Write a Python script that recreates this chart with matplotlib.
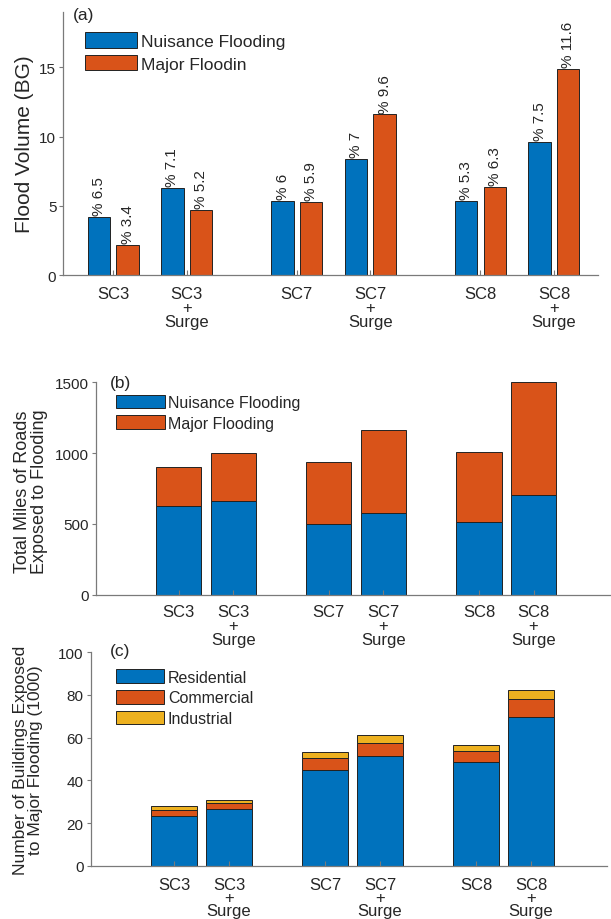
import matplotlib
matplotlib.use("Agg")
import matplotlib.pyplot as plt
import numpy as np

plt.rcParams['font.family'] = ['Liberation Sans', 'DejaVu Sans']
TXT = '#262626'
AX = '#7a7a7a'

# ---------------- data ----------------
scenarios = ['SC3', 'SC3\n+\nSurge', 'SC7', 'SC7\n+\nSurge', 'SC8', 'SC8\n+\nSurge']

vol_nuisance = [4.2, 6.3, 5.35, 8.4, 5.35, 9.6]
vol_major = [2.2, 4.7, 5.3, 11.6, 6.35, 14.9]
pct_nuisance = ['6.5', '7.1', '6', '7', '5.3', '7.5']
pct_major = ['3.4', '5.2', '5.9', '9.6', '6.3', '11.6']

roads_nuisance = [625, 660, 502, 578, 512, 702]
roads_major = [280, 338, 437, 583, 493, 798]

bld_res = [23.4, 26.6, 44.7, 51.6, 48.5, 69.6]
bld_com = [2.8, 2.8, 5.8, 5.9, 5.4, 8.4]
bld_ind = [1.6, 1.4, 2.7, 3.6, 2.7, 4.5]

BLUE = '#0072BD'
ORANGE = '#D95319'
YELLOW = '#EDB120'
EDGE = '#222222'

# ---------------- layout ----------------
pos_a = np.array([1, 2, 3.5, 4.5, 6, 7])
pos_bc = np.array([1, 2, 3.75, 4.75, 6.5, 7.5])

fig = plt.figure(figsize=(6.11, 9.2), dpi=100)
ax_a = fig.add_axes([0.1036, 0.700, 0.8751, 0.2859])
ax_b = fig.add_axes([0.1566, 0.3525, 0.8417, 0.2309])
ax_c = fig.add_axes([0.1484, 0.0579, 0.8445, 0.2320])


def style(ax, xpad, lsp):
    for s in ['top', 'right']:
        ax.spines[s].set_visible(False)
    for s in ['left', 'bottom']:
        ax.spines[s].set_color(AX)
        ax.spines[s].set_linewidth(0.9)
    ax.tick_params(axis='y', direction='out', length=3, width=0.8, color=AX,
                   labelsize=11, labelcolor=TXT, pad=2)
    ax.tick_params(axis='x', direction='in', length=3.5, width=0.8, color=AX,
                   labelsize=12, labelcolor=TXT, pad=xpad)
    for lab in ax.get_xticklabels():
        lab.set_linespacing(lsp)


# ---------------- panel (a) ----------------
w = 0.305
off = 0.195
ax_a.bar(pos_a - off, vol_nuisance, w, color=BLUE, edgecolor=EDGE, linewidth=0.7,
         label='Nuisance Flooding')
ax_a.bar(pos_a + off, vol_major, w, color=ORANGE, edgecolor=EDGE, linewidth=0.7,
         label='Major Floodin')
for x, v, p in zip(pos_a - off, vol_nuisance, pct_nuisance):
    ax_a.text(x, v + 0.12, '% ' + p, rotation=90, ha='center', va='bottom',
              fontsize=11, color=TXT)
for x, v, p in zip(pos_a + off, vol_major, pct_major):
    ax_a.text(x, v + 0.12, '% ' + p, rotation=90, ha='center', va='bottom',
              fontsize=11, color=TXT)
ax_a.set_xlim(0.32, 7.6)
ax_a.set_ylim(0, 19)
ax_a.set_yticks([0, 5, 10, 15])
ax_a.set_xticks(pos_a)
ax_a.set_xticklabels(scenarios, va='top')
style(ax_a, 8, 0.92)
ax_a.set_ylabel('Flood Volume (BG)', fontsize=15, color=TXT)
ax_a.yaxis.set_label_coords(-0.055, 0.5)
ax_a.text(0.018, 0.992, '(a)', transform=ax_a.transAxes, ha='left', va='center',
          fontsize=12.5, color=TXT)
ax_a.legend(loc='upper left', bbox_to_anchor=(0.0406, 0.922), frameon=False,
            fontsize=12.5, handlelength=3.0, handleheight=1.0, labelspacing=0.33,
            handletextpad=0.25, borderpad=0, borderaxespad=0, labelcolor=TXT)

# ---------------- panel (b) ----------------
wb = 0.83
ax_b.bar(pos_bc, roads_nuisance, wb, color=BLUE, edgecolor=EDGE, linewidth=0.7,
         label='Nuisance Flooding')
ax_b.bar(pos_bc, roads_major, wb, bottom=roads_nuisance, color=ORANGE,
         edgecolor=EDGE, linewidth=0.7, label='Major Flooding')
ax_b.set_xlim(-0.52, 8.9)
ax_b.set_ylim(0, 1500)
ax_b.set_yticks([0, 500, 1000, 1500])
ax_b.set_xticks(pos_bc)
ax_b.set_xticklabels(scenarios, va='top')
style(ax_b, 7, 0.88)
ax_b.set_ylabel('Total Miles of Roads\nExposed to Flooding', fontsize=13,
                color=TXT, linespacing=1.0)
ax_b.yaxis.set_label_coords(-0.093, 0.49)
ax_b.text(0.028, 0.998, '(b)', transform=ax_b.transAxes, ha='left', va='center',
          fontsize=12.5, color=TXT)
ax_b.legend(loc='upper left', bbox_to_anchor=(0.0395, 0.942), frameon=False,
            fontsize=11.5, handlelength=3.05, handleheight=0.95, labelspacing=0.33,
            handletextpad=0.22, borderpad=0, borderaxespad=0, labelcolor=TXT)

# ---------------- panel (c) ----------------
bot2 = np.array(bld_res) + np.array(bld_com)
ax_c.bar(pos_bc, bld_res, wb, color=BLUE, edgecolor=EDGE, linewidth=0.7,
         label='Residential')
ax_c.bar(pos_bc, bld_com, wb, bottom=bld_res, color=ORANGE, edgecolor=EDGE,
         linewidth=0.7, label='Commercial')
ax_c.bar(pos_bc, bld_ind, wb, bottom=bot2, color=YELLOW, edgecolor=EDGE,
         linewidth=0.7, label='Industrial')
ax_c.set_xlim(-0.52, 8.88)
ax_c.set_ylim(0, 100)
ax_c.set_yticks([0, 20, 40, 60, 80, 100])
ax_c.set_xticks(pos_bc)
ax_c.set_xticklabels(scenarios, va='top')
style(ax_c, 8, 0.82)
ax_c.set_ylabel('Number of Buildings Exposed\nto Major Flooding (1000)', fontsize=12.5,
                color=TXT, linespacing=1.0)
ax_c.yaxis.set_label_coords(-0.092, 0.5)
ax_c.text(0.037, 1.007, '(c)', transform=ax_c.transAxes, ha='left', va='center',
          fontsize=12.5, color=TXT)
ax_c.legend(loc='upper left', bbox_to_anchor=(0.0484, 0.92), frameon=False,
            fontsize=11.5, handlelength=3.05, handleheight=0.95, labelspacing=0.33,
            handletextpad=0.22, borderpad=0, borderaxespad=0, labelcolor=TXT)

fig.savefig('out.png', dpi=100)
